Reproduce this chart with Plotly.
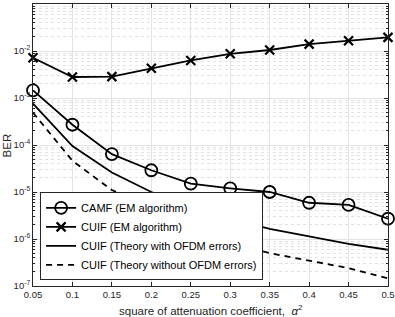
import plotly.graph_objects as go

alpha2 = [0.05, 0.1, 0.15, 0.2, 0.25, 0.3, 0.35, 0.4, 0.45, 0.5]
camf_em = [1.45e-3, 2.7e-4, 6.4e-5, 2.9e-5, 1.5e-5, 1.2e-5, 1.0e-5, 5.9e-6, 5.3e-6, 2.7e-6]
cuif_em = [7.2e-3, 2.8e-3, 2.85e-3, 4.3e-3, 6.3e-3, 8.7e-3, 1.05e-2, 1.4e-2, 1.65e-2, 1.95e-2]
cuif_theory_ofdm = [7.6e-4, 9.5e-5, 2.6e-5, 1.0e-5, 5.0e-6, 2.7e-6, 1.65e-6, 1.13e-6, 7.9e-7, 5.9e-7]
cuif_theory_no_ofdm = [4.9e-4, 4.6e-5, 1.1e-5, 4.6e-6, 1.7e-6, 8.5e-7, 5.0e-7, 3.5e-7, 2.4e-7, 1.45e-7]

x_ticks = [0.05, 0.1, 0.15, 0.2, 0.25, 0.3, 0.35, 0.4, 0.45, 0.5]
x_ticklabels = ["0.05", "0.1", "0.15", "0.2", "0.25", "0.3", "0.35", "0.4", "0.45", "0.5"]
y_ticks = [1e-7, 1e-6, 1e-5, 1e-4, 1e-3, 1e-2, 1e-1]
y_ticklabels = ["10<sup>-7</sup>", "10<sup>-6</sup>", "10<sup>-5</sup>", "10<sup>-4</sup>",
                "10<sup>-3</sup>", "10<sup>-2</sup>", "10<sup>-1</sup>"]

FONT = "Liberation Sans, Arial, sans-serif"

fig = go.Figure()
fig.add_trace(go.Scatter(x=alpha2, y=camf_em, mode="lines+markers", name="CAMF (EM algorithm)",
                         line=dict(color="black", width=1.8), cliponaxis=False,
                         marker=dict(symbol="circle-open", size=12, color="black", line=dict(width=1.8))))
fig.add_trace(go.Scatter(x=alpha2, y=cuif_em, mode="lines+markers", name="CUIF (EM algorithm)",
                         line=dict(color="black", width=1.8), cliponaxis=False,
                         marker=dict(symbol="x-thin-open", size=9, color="black", line=dict(width=2.2))))
fig.add_trace(go.Scatter(x=alpha2, y=cuif_theory_ofdm, mode="lines", name="CUIF (Theory with OFDM errors)",
                         line=dict(color="black", width=1.8)))
fig.add_trace(go.Scatter(x=alpha2, y=cuif_theory_no_ofdm, mode="lines", name="CUIF (Theory without OFDM errors)",
                         line=dict(color="black", width=1.8, dash="6px,5px")))

axis_common = dict(showline=True, linecolor="#262626", linewidth=1, mirror="ticks",
                   ticks="inside", ticklen=4, tickcolor="#262626", zeroline=False, automargin=False,
                   tickfont=dict(family=FONT, size=9.5, color="#262626"),
                   gridcolor="#e3e3e3", gridwidth=1)

fig.update_xaxes(range=[0.05, 0.5], tickvals=x_ticks, ticktext=x_ticklabels, **axis_common)
fig.update_yaxes(type="log", range=[-7, -1], tickvals=y_ticks, ticktext=y_ticklabels,
                 minor=dict(showgrid=True, gridcolor="#e2e2e2", griddash="dot", ticks="inside", ticklen=2,
                            tickcolor="#262626", dtick="D1"),
                 **axis_common)

fig.add_annotation(text="square of attenuation coefficient,  <i>α</i><sup>2</sup>",
                   xref="paper", yref="paper", x=0.5, y=-0.052, xanchor="center", yanchor="top",
                   showarrow=False, font=dict(family=FONT, size=11.5, color="#262626"))
fig.add_annotation(text="BER", xref="paper", yref="paper", x=-0.072, y=0.5, textangle=-90,
                   xanchor="center", yanchor="middle",
                   showarrow=False, font=dict(family=FONT, size=11.5, color="#262626"))

fig.update_layout(
    width=395, height=317,
    margin=dict(l=33, r=7, t=4, b=31),
    paper_bgcolor="white", plot_bgcolor="white",
    font=dict(family=FONT, color="#262626"),
    showlegend=True,
    legend=dict(x=0.02, y=0.02, xanchor="left", yanchor="bottom",
                bgcolor="white", bordercolor="#262626", borderwidth=1,
                font=dict(family=FONT, size=11, color="black"),
                tracegroupgap=0, itemwidth=30),
)

fig.write_html("out.html", config={"displayModeBar": False},
               post_script="document.body.style.margin='0';document.body.style.overflow='hidden';")
